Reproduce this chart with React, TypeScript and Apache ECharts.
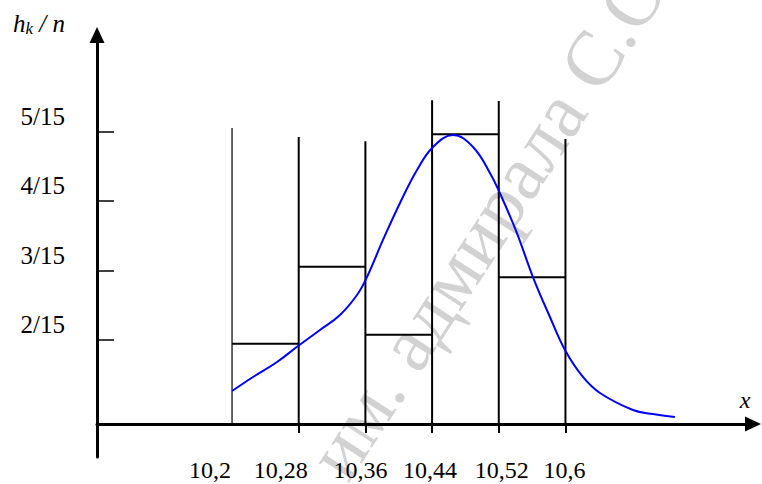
import React, { useEffect, useRef } from "react";
import * as echarts from "echarts";

// Bin edges (x) and relative frequencies (in units of 1/15)
const edges = [10.2, 10.28, 10.36, 10.44, 10.52, 10.6];
const edgeLabels = ["10,2", "10,28", "10,36", "10,44", "10,52", "10,6"];
const edgeTops = [5.05, 4.92, 4.86, 5.45, 5.44, 4.89];
const binHeights = [1.94, 3.05, 2.07, 4.96, 2.9];
const yTickValues = [2, 3, 4, 5];
const yTickLabels = ["2/15", "3/15", "4/15", "5/15"];

// Smooth density curve
const curveX = [
  10.2, 10.2252, 10.254, 10.2792, 10.3055, 10.3295, 10.3499, 10.3619, 10.3811,
  10.4015, 10.4219, 10.4411, 10.4651, 10.4891, 10.5094, 10.525, 10.5418,
  10.561, 10.5814, 10.5994, 10.621, 10.6414, 10.681, 10.7049, 10.7313,
];
const curveY = [
  1.261, 1.463, 1.679, 1.909, 2.14, 2.356, 2.644, 2.903, 3.437, 3.97, 4.445,
  4.777, 4.95, 4.777, 4.402, 4.013, 3.537, 2.903, 2.327, 1.852, 1.463, 1.232,
  0.987, 0.929, 0.886,
];

const X_MIN = 10.038;
const X_MAX = 10.825;
const Y_MIN = 0.31;
const Y_MAX = 6.39;
const X_AXIS_RAISE = 33;

const FONT = "'Liberation Serif', 'Times New Roman', serif";

export default function App() {
  const ref = useRef<HTMLDivElement>(null);

  useEffect(() => {
    if (!ref.current) return;
    const chart = echarts.init(ref.current, null, { renderer: "svg" });

    const labelShift: Record<string, number[]> = {
      l0: [0, 44, 0, 0],
      l1: [0, 36, 0, 0],
      l2: [0, 10, 0, 0],
      l3: [0, 4, 0, 0],
      l4: [0, 0, 0, 6],
      l5: [0, 2, 0, 0],
    };
    const rich: any = {};
    Object.keys(labelShift).forEach((k) => {
      rich[k] = {
        fontFamily: FONT,
        fontSize: 24,
        color: "#000",
        padding: labelShift[k],
      };
    });

    const option: any = {
      animation: false,
      backgroundColor: "#fff",
      grid: { left: 97, right: 9, top: 35, bottom: 27 },
      graphic: [
        {
          type: "text",
          x: 492,
          y: 214,
          rotation: (57 * Math.PI) / 180,
          z: -10,
          silent: true,
          style: {
            text: "им. адмирала С.О.",
            fontFamily: FONT,
            fontSize: 78,
            fill: "#d2d2d2",
            textAlign: "center",
            textVerticalAlign: "middle",
          },
        },
      ],
      xAxis: {
        type: "value",
        min: X_MIN,
        max: X_MAX,
        position: "bottom",
        offset: -X_AXIS_RAISE,
        splitLine: { show: false },
        axisLine: {
          onZero: false,
          symbol: ["none", "triangle"],
          symbolSize: [15, 16],
          lineStyle: { color: "#000", width: 3 },
        },
        axisTick: {
          customValues: edges.slice(1),
          length: 9,
          lineStyle: { color: "#000", width: 2 },
        },
        axisLabel: {
          customValues: edges,
          margin: 34,
          formatter: (v: number) => {
            const i = edges.findIndex((e) => Math.abs(e - v) < 1e-6);
            return i >= 0 ? `{l${i}|${edgeLabels[i]}}` : "";
          },
          rich,
        },
        name: "x",
        nameLocation: "end",
        nameGap: -8,
        nameTextStyle: {
          fontFamily: FONT,
          fontStyle: "italic",
          fontSize: 24,
          color: "#000",
          align: "center",
          verticalAlign: "bottom",
          padding: [0, 0, 12, 0],
        },
      },
      yAxis: {
        type: "value",
        min: Y_MIN,
        max: Y_MAX,
        splitLine: { show: false },
        axisLine: {
          onZero: false,
          symbol: ["none", "triangle"],
          symbolSize: [15, 16],
          lineStyle: { color: "#000", width: 3 },
        },
        axisTick: {
          inside: true,
          customValues: yTickValues,
          length: 17,
          lineStyle: { color: "#000", width: 1.5 },
        },
        axisLabel: {
          customValues: yTickValues,
          margin: 32,
          fontFamily: FONT,
          fontSize: 25,
          color: "#000",
          verticalAlign: "bottom",
          lineHeight: 30,
          formatter: (v: number) => {
            const i = yTickValues.indexOf(Math.round(v));
            return i >= 0 ? yTickLabels[i] : "";
          },
        },
        name: "{i|h}{s|k}{i| / n}",
        nameLocation: "end",
        nameGap: 12,
        nameTextStyle: {
          align: "right",
          verticalAlign: "middle",
          padding: [0, 32, 0, 0],
          rich: {
            i: { fontFamily: FONT, fontStyle: "italic", fontSize: 25, color: "#000" },
            s: {
              fontFamily: FONT,
              fontStyle: "italic",
              fontSize: 17,
              color: "#000",
              padding: [10, 0, 0, 0],
            },
          },
        },
      },
      series: [
        {
          type: "custom",
          name: "edges",
          data: edges.map((e, i) => [e, edgeTops[i]]),
          renderItem: (params: any, api: any) => {
            const cs = params.coordSys;
            const top = api.coord([api.value(0), api.value(1)]);
            const baseY = cs.y + cs.height - X_AXIS_RAISE;
            return {
              type: "line",
              shape: { x1: top[0], y1: baseY, x2: top[0], y2: top[1] },
              style: {
                stroke: "#000",
                lineWidth: params.dataIndex === 0 ? 1.2 : 2,
              },
            };
          },
          z: 3,
        },
        {
          type: "custom",
          name: "bins",
          data: binHeights.map((h, i) => [edges[i], edges[i + 1], h]),
          renderItem: (params: any, api: any) => {
            const a = api.coord([api.value(0), api.value(2)]);
            const b = api.coord([api.value(1), api.value(2)]);
            return {
              type: "line",
              shape: { x1: a[0], y1: a[1], x2: b[0], y2: b[1] },
              style: { stroke: "#000", lineWidth: 2 },
            };
          },
          z: 3,
        },
        {
          type: "line",
          name: "curve",
          data: curveX.map((x, i) => [x, curveY[i]]),
          smooth: 0.4,
          showSymbol: false,
          symbol: "none",
          lineStyle: { color: "#0000ff", width: 2 },
          z: 4,
        },
      ],
    };

    chart.setOption(option);
    return () => chart.dispose();
  }, []);

  return (
    <div
      ref={ref}
      style={{ position: "absolute", left: 0, top: 0, width: 762, height: 484 }}
    />
  );
}
